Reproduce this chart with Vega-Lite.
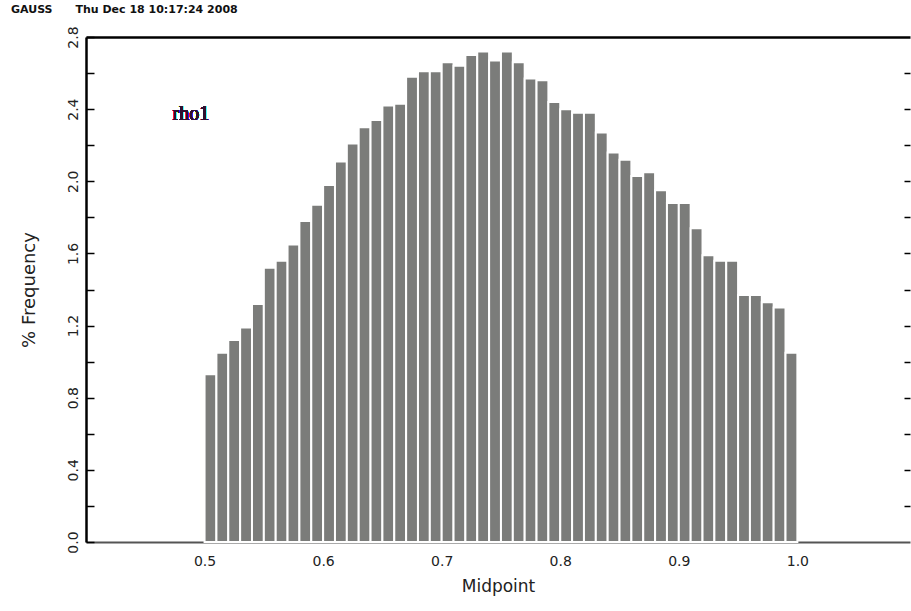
{
  "$schema": "https://vega.github.io/schema/vega-lite/v6.json",
  "autosize": "none",
  "padding": {"left": 86, "top": 37, "right": 1, "bottom": 69},
  "width": 824,
  "height": 505,
  "background": "white",
  "title": {
    "text": "GAUSS\u00a0\u00a0\u00a0\u00a0\u00a0\u00a0Thu Dec 18 10:17:24 2008",
    "anchor": "start",
    "frame": "group",
    "dx": -75,
    "offset": 11,
    "font": "DejaVu Sans",
    "fontSize": 11,
    "fontWeight": "bold",
    "color": "#111"
  },
  "config": {"view": {"stroke": null}, "axis": {"grid": false}},
  "data": {
    "values": [
      {"lo": 0.50, "hi": 0.51, "pct": 0.93},
      {"lo": 0.51, "hi": 0.52, "pct": 1.05},
      {"lo": 0.52, "hi": 0.53, "pct": 1.12},
      {"lo": 0.53, "hi": 0.54, "pct": 1.19},
      {"lo": 0.54, "hi": 0.55, "pct": 1.32},
      {"lo": 0.55, "hi": 0.56, "pct": 1.52},
      {"lo": 0.56, "hi": 0.57, "pct": 1.56},
      {"lo": 0.57, "hi": 0.58, "pct": 1.65},
      {"lo": 0.58, "hi": 0.59, "pct": 1.78},
      {"lo": 0.59, "hi": 0.60, "pct": 1.87},
      {"lo": 0.60, "hi": 0.61, "pct": 1.98},
      {"lo": 0.61, "hi": 0.62, "pct": 2.11},
      {"lo": 0.62, "hi": 0.63, "pct": 2.21},
      {"lo": 0.63, "hi": 0.64, "pct": 2.30},
      {"lo": 0.64, "hi": 0.65, "pct": 2.34},
      {"lo": 0.65, "hi": 0.66, "pct": 2.42},
      {"lo": 0.66, "hi": 0.67, "pct": 2.43},
      {"lo": 0.67, "hi": 0.68, "pct": 2.58},
      {"lo": 0.68, "hi": 0.69, "pct": 2.61},
      {"lo": 0.69, "hi": 0.70, "pct": 2.61},
      {"lo": 0.70, "hi": 0.71, "pct": 2.66},
      {"lo": 0.71, "hi": 0.72, "pct": 2.64},
      {"lo": 0.72, "hi": 0.73, "pct": 2.70},
      {"lo": 0.73, "hi": 0.74, "pct": 2.72},
      {"lo": 0.74, "hi": 0.75, "pct": 2.67},
      {"lo": 0.75, "hi": 0.76, "pct": 2.72},
      {"lo": 0.76, "hi": 0.77, "pct": 2.66},
      {"lo": 0.77, "hi": 0.78, "pct": 2.57},
      {"lo": 0.78, "hi": 0.79, "pct": 2.56},
      {"lo": 0.79, "hi": 0.80, "pct": 2.44},
      {"lo": 0.80, "hi": 0.81, "pct": 2.40},
      {"lo": 0.81, "hi": 0.82, "pct": 2.38},
      {"lo": 0.82, "hi": 0.83, "pct": 2.38},
      {"lo": 0.83, "hi": 0.84, "pct": 2.27},
      {"lo": 0.84, "hi": 0.85, "pct": 2.16},
      {"lo": 0.85, "hi": 0.86, "pct": 2.12},
      {"lo": 0.86, "hi": 0.87, "pct": 2.03},
      {"lo": 0.87, "hi": 0.88, "pct": 2.05},
      {"lo": 0.88, "hi": 0.89, "pct": 1.95},
      {"lo": 0.89, "hi": 0.90, "pct": 1.88},
      {"lo": 0.90, "hi": 0.91, "pct": 1.88},
      {"lo": 0.91, "hi": 0.92, "pct": 1.74},
      {"lo": 0.92, "hi": 0.93, "pct": 1.59},
      {"lo": 0.93, "hi": 0.94, "pct": 1.56},
      {"lo": 0.94, "hi": 0.95, "pct": 1.56},
      {"lo": 0.95, "hi": 0.96, "pct": 1.37},
      {"lo": 0.96, "hi": 0.97, "pct": 1.37},
      {"lo": 0.97, "hi": 0.98, "pct": 1.33},
      {"lo": 0.98, "hi": 0.99, "pct": 1.30},
      {"lo": 0.99, "hi": 1.00, "pct": 1.05}
    ]
  },
  "layer": [
    {
      "mark": {"type": "bar", "fill": "#7b7c7a", "stroke": "white", "strokeWidth": 2},
      "encoding": {
        "x": {
          "field": "lo",
          "type": "quantitative",
          "scale": {"domain": [0.4, 1.095], "nice": false, "zero": false},
          "axis": {
            "orient": "bottom",
            "values": [0.5, 0.6, 0.7, 0.8, 0.9, 1.0],
            "format": ".1f",
            "ticks": false,
            "domainColor": "#555",
            "domainWidth": 2,
            "labelFont": "DejaVu Sans",
            "labelFontSize": 14,
            "labelColor": "#222",
            "labelPadding": 12,
            "title": "Midpoint",
            "titleFont": "DejaVu Sans",
            "titleFontSize": 17,
            "titleFontWeight": "normal",
            "titleColor": "#222",
            "titlePadding": 10
          }
        },
        "x2": {"field": "hi"},
        "y": {
          "field": "pct",
          "type": "quantitative",
          "scale": {"domain": [0, 2.8], "nice": false},
          "axis": {
            "orient": "left",
            "values": [0, 0.2, 0.4, 0.6, 0.8, 1.0, 1.2, 1.4, 1.6, 1.8, 2.0, 2.2, 2.4, 2.6, 2.8],
            "labelExpr": "round(datum.value * 10) % 4 == 0 ? format(datum.value, '.1f') : ''",
            "tickSize": -8,
            "tickColor": "#000",
            "tickWidth": 1.5,
            "domainColor": "#000",
            "domainWidth": 2.5,
            "labelAngle": 270,
            "labelAlign": "center",
            "labelBaseline": "bottom",
            "labelPadding": 14,
            "labelFont": "DejaVu Sans",
            "labelFontSize": 14,
            "labelColor": "#222",
            "title": "% Frequency",
            "titleFont": "DejaVu Sans",
            "titleFontSize": 18,
            "titleFontWeight": "normal",
            "titleColor": "#222",
            "titlePadding": 28
          }
        },
        "y2": {"datum": 0}
      }
    },
    {
      "mark": {"type": "text", "text": "rho1", "font": "Liberation Serif", "fontSize": 20, "color": "#301030", "align": "center", "baseline": "alphabetic"},
      "encoding": {
        "x": {
          "datum": 0.4884,
          "type": "quantitative",
          "axis": {"orient": "top", "labels": false, "ticks": false, "title": null, "domainColor": "#000", "domainWidth": 2.5}
        },
        "y": {
          "datum": 2.342,
          "type": "quantitative",
          "axis": {
            "orient": "right",
            "values": [0.2, 0.4, 0.6, 0.8, 1.0, 1.2, 1.4, 1.6, 1.8, 2.0, 2.2, 2.4, 2.6],
            "labels": false,
            "domain": false,
            "tickSize": -6,
            "tickWidth": 1.5,
            "tickColor": "#000",
            "title": null
          }
        }
      }
    }
  ],
  "resolve": {"axis": {"x": "independent", "y": "independent"}}
}
